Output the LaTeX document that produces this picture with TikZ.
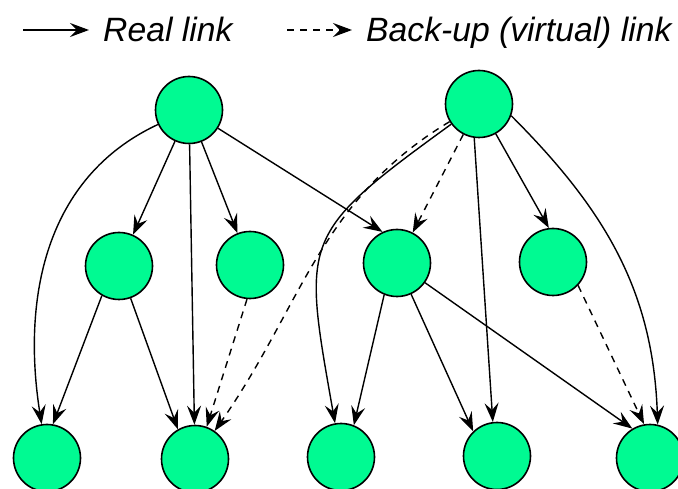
\documentclass[tikz,border=0pt]{standalone}
\usepackage{fontspec}
\setmainfont{Liberation Sans}
\usetikzlibrary{arrows.meta}
\definecolor{nodegreen}{RGB}{0,250,146}

\begin{document}
\begin{tikzpicture}[
	x=1pt, y=1pt,
	peer/.style = {
		circle,draw,
		fill=nodegreen,
		line width=1.6pt,
		minimum size=67pt,
		inner sep=0pt,
	},
	link/.style={line width=1.4pt, -{Stealth[length=19pt,width=14pt,inset=7pt]}},
	backup/.style={link, dash pattern=on 7pt off 6pt},
	legend/.style={anchor=base west, inner sep=0pt, font=\fontsize{33.7}{40}\selectfont\itshape},
]
\useasboundingbox (0,0) rectangle (678,488);

% Legend
\coordinate (realA) at (23,458);
\coordinate (realB) at (89,458);
\draw[link] (realA) -- (realB);
\node[legend] (realtxt) at (103,446) {Real link};
\coordinate (backA) at (287,458);
\coordinate (backB) at (352,458);
\draw[backup] (backA) -- (backB);
\node[legend] (backtxt) at (366,446) {Back-up (virtual) link};

% Top row
\node [peer] (src1) at (189,378) {};
\node [peer] (src2) at (479,384) {};

% Middle row
\node [peer] (rel1) at (119,222) {};
\node [peer] (rel2) at (250,223) {};
\node [peer] (rel3) at (397,225) {};
\node [peer] (rel4) at (553,226) {};

% Bottom row
\node [peer] (dst1) at (47,30) {};
\node [peer] (dst2) at (195,29) {};
\node [peer] (dst3) at (341,31) {};
\node [peer] (dst4) at (497,32) {};
\node [peer] (dst5) at (650,30) {};

% Links from the first top node
\draw[link] (src1) to[out=205,in=99] (dst1);
\draw[link] (src1) -- (rel1);
\draw[link] (src1) -- (dst2);
\draw[link] (src1) -- (rel2);
\draw[link] (src1) -- (rel3.115);

% Links from the second top node
\draw[backup] (src2) to[out=211,in=55] (dst2);
\draw[link] (src2) to[out=216,in=100,looseness=1.5] (dst3);
\draw[backup] (src2) -- (rel3);
\draw[link] (src2.262) -- (dst4.97);
\draw[link] (src2) -- (rel4.97);
\draw[link] (src2.-20) to[out=-45,in=92] (dst5.77);

% Links from the middle row
\draw[link] (rel1.240) -- (dst1.80);
\draw[link] (rel1) -- (dst2.120);
\draw[backup] (rel2.265) -- (dst2.70);
\draw[link] (rel3.248) -- (dst3.68);
\draw[link] (rel3) -- (dst4.134);
\draw[link] (rel3) -- (dst5.121);
\draw[backup] (rel4.-43) -- (dst5.100);

\end{tikzpicture}
\end{document}
